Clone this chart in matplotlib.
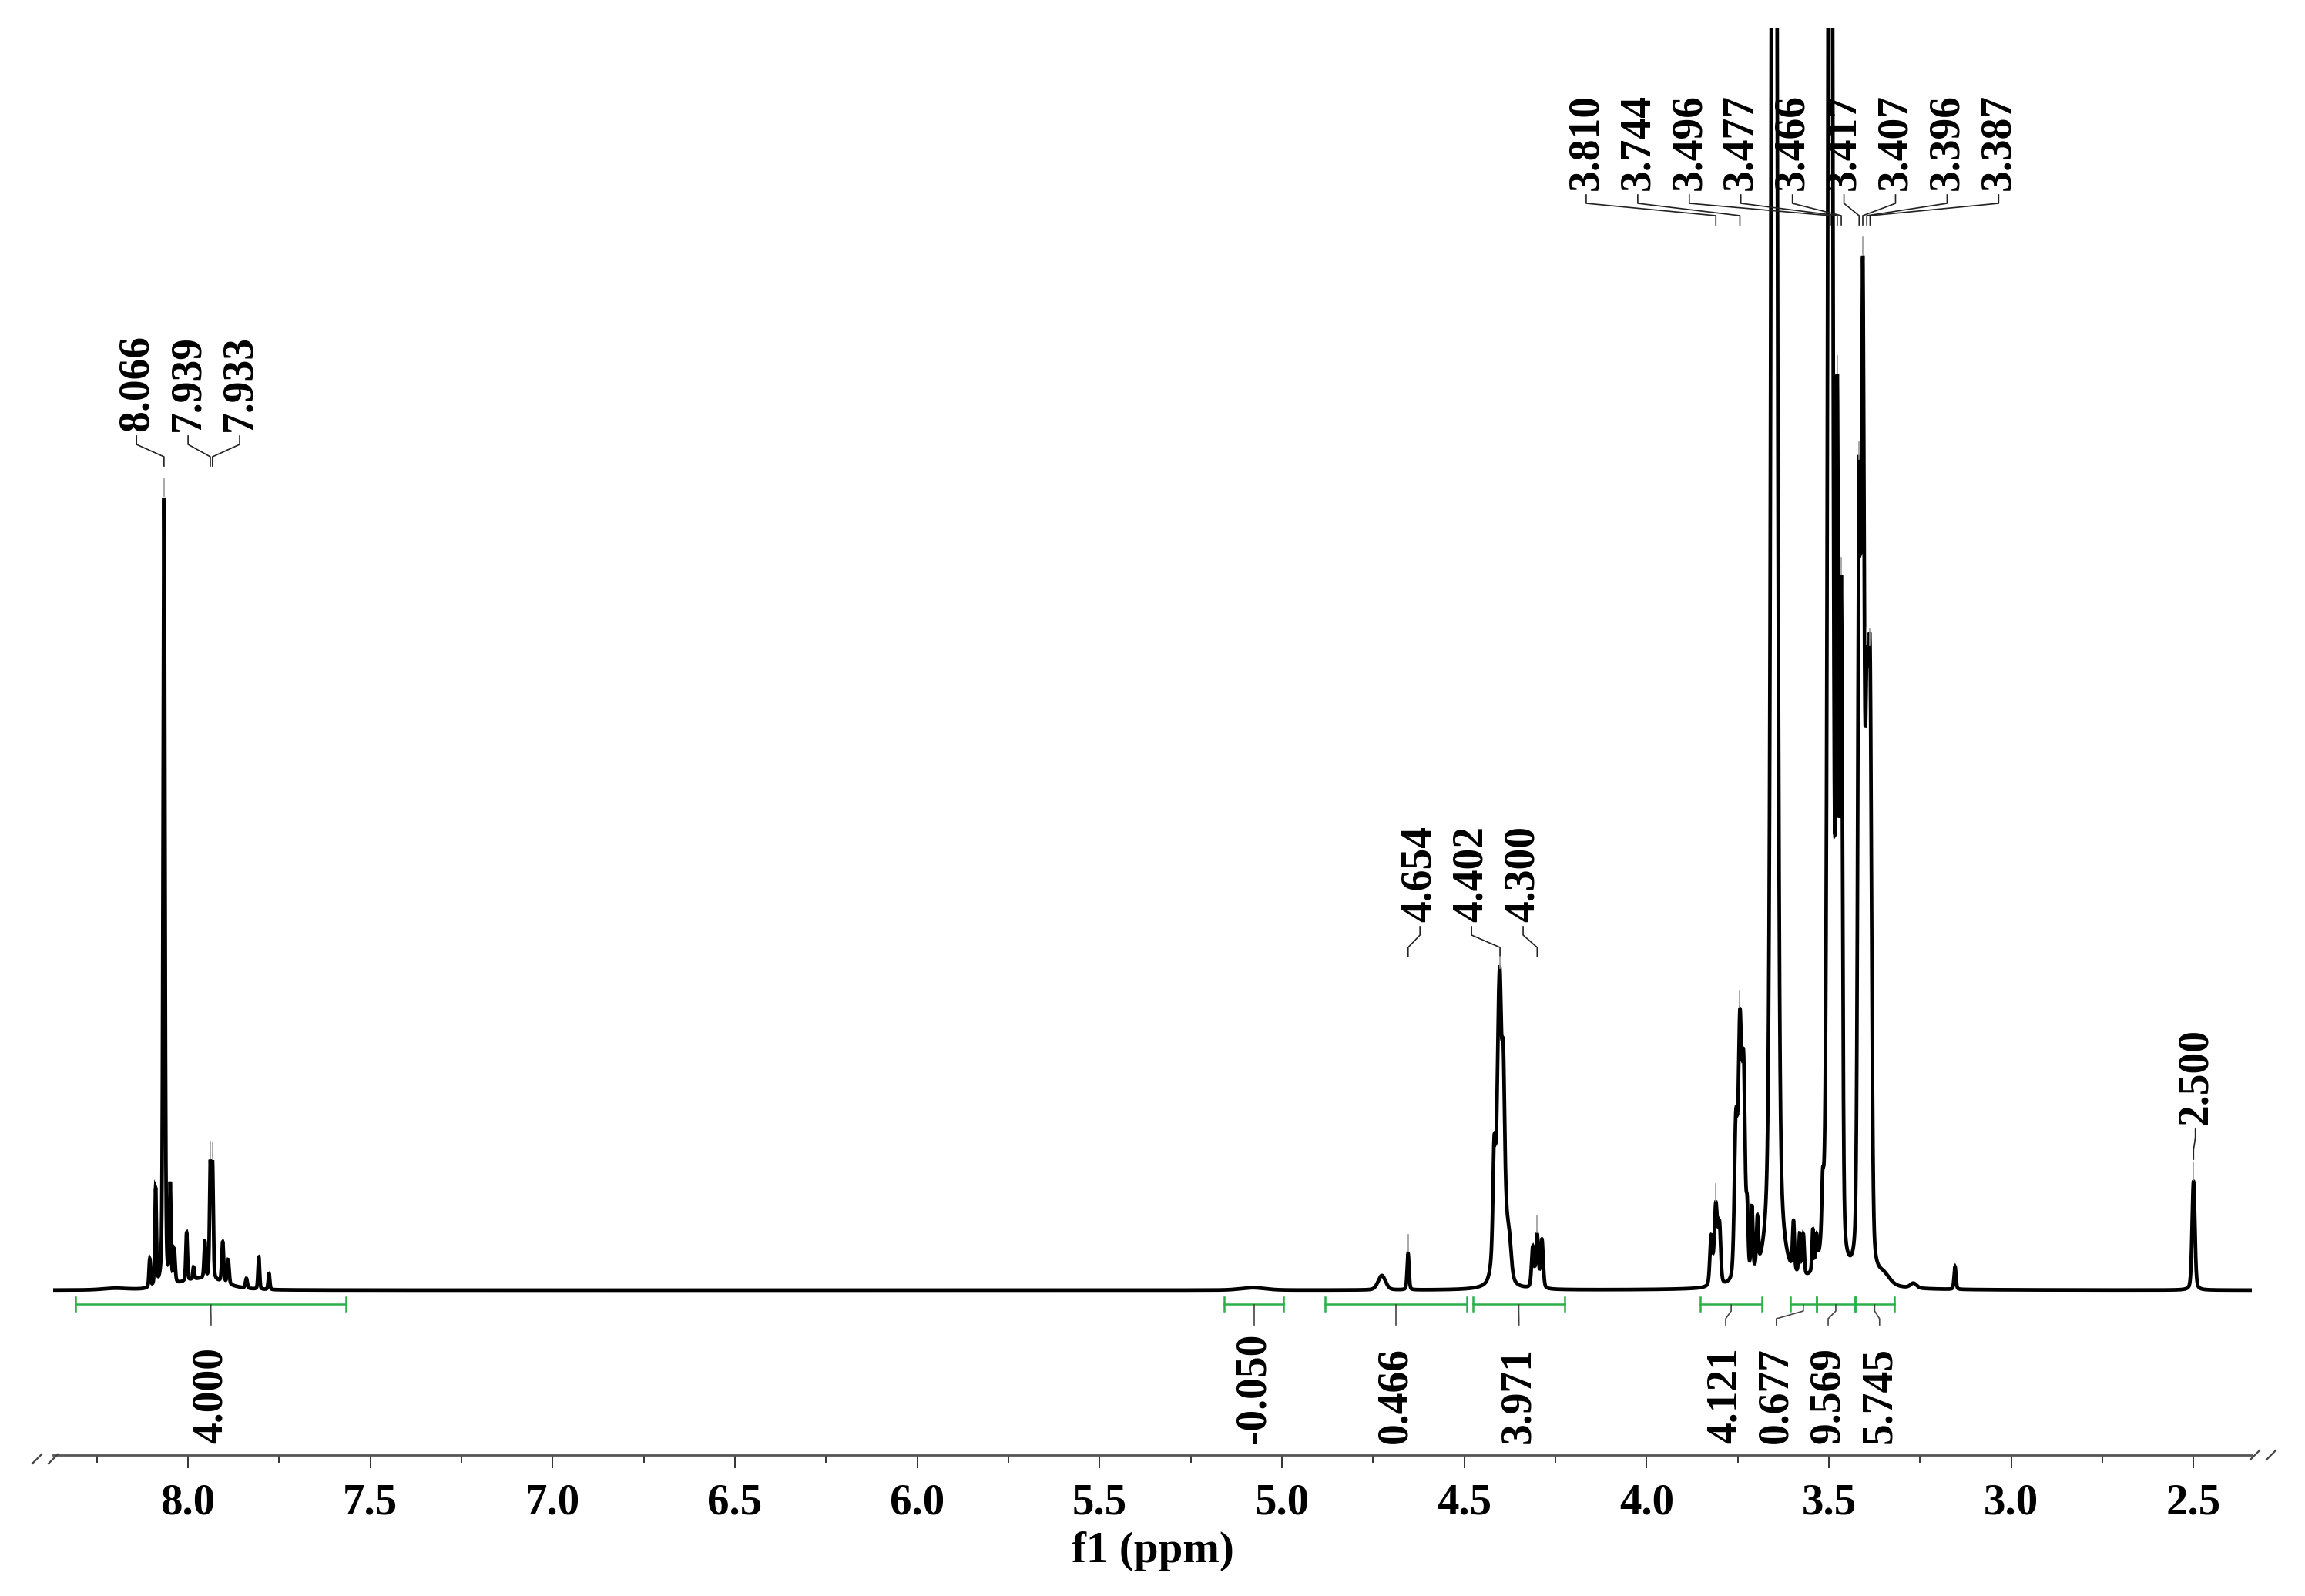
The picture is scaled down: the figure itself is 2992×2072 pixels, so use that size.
import numpy as np
import matplotlib
matplotlib.use('Agg')
import matplotlib.pyplot as plt
from matplotlib.lines import Line2D

plt.rcParams['font.family'] = ['Liberation Serif', 'DejaVu Serif']
plt.rcParams['font.weight'] = 'bold'

# peaks: position (ppm), height (8.066 line ~ 1), half width (ppm)
peak_ppm = [8.200, 8.105, 8.089, 8.066, 8.049, 8.038, 8.004, 7.985, 7.954, 7.939, 7.933,
            7.905, 7.890, 7.840, 7.806, 7.778, 7.960,
            5.080, 4.726, 4.654, 4.418, 4.407, 4.402, 4.393, 4.400, 4.376, 4.312, 4.300, 4.287,
            3.823, 3.810, 3.800, 3.755, 3.744, 3.734, 3.724, 3.711, 3.696, 3.650,
            3.597, 3.580, 3.570, 3.544, 3.534, 3.517, 3.496, 3.477, 3.466,
            3.417, 3.407, 3.396, 3.387, 3.350, 3.268, 3.154, 2.500]
peak_height = [0.002, 0.035, 0.12, 0.98, 0.12, 0.04, 0.06, 0.015, 0.045, 0.14, 0.14,
               0.05, 0.03, 0.012, 0.04, 0.02, 0.014,
               0.003, 0.018, 0.045, 0.11, 0.11, 0.16, 0.13, 0.19, 0.03, 0.05, 0.065, 0.06,
               0.06, 0.10, 0.07, 0.19, 0.30, 0.25, 0.07, 0.08, 0.06, 3.5,
               0.06, 0.05, 0.05, 0.05, 0.035, 0.06, 3.0, 1.0, 0.8,
               0.92, 1.15, 0.62, 0.68, 0.012, 0.006, 0.028, 0.135]
peak_hwhm = [0.04, 0.0025, 0.0025, 0.003, 0.0025, 0.003, 0.0025, 0.0025, 0.0025, 0.0025, 0.0025,
             0.003, 0.003, 0.003, 0.0025, 0.0025, 0.07,
             0.04, 0.012, 0.003, 0.004, 0.004, 0.004, 0.004, 0.015, 0.006, 0.004, 0.004, 0.004,
             0.004, 0.005, 0.004, 0.005, 0.005, 0.005, 0.003, 0.003, 0.003, 0.0075,
             0.003, 0.003, 0.003, 0.0025, 0.003, 0.003, 0.0065, 0.004, 0.004,
             0.0045, 0.0045, 0.005, 0.005, 0.02, 0.01, 0.003, 0.0045]

# peak picking labels, one list per group
labels_arom = [8.066, 7.939, 7.933]
labels_ch2 = [4.654, 4.402, 4.300]
labels_peg = [3.810, 3.744, 3.496, 3.477, 3.466, 3.417, 3.407, 3.396, 3.387]
labels_dmso = [2.500]

# integrals
int_from = [8.308, 5.158, 4.882, 4.477, 3.852, 3.606, 3.534, 3.428]
int_to = [7.567, 4.996, 4.494, 4.224, 3.684, 3.534, 3.428, 3.321]
int_value = ['4.000', '-0.050', '0.466', '3.971', '4.121', '0.677', '9.569', '5.745']
int_label_ppm = [7.937, 5.077, 4.688, 4.350, 3.783, 3.644, 3.502, 3.361]

xticks = [8.0, 7.5, 7.0, 6.5, 6.0, 5.5, 5.0, 4.5, 4.0, 3.5, 3.0, 2.5]

W, H = 2992, 2072
AX_L, AX_R, AX_T, AX_B = 69, 2923, 37, 1889
BASE, UNIT = 1675, 1045.0


def py(p):
    # pixel row -> intensity units
    return (BASE - p) / UNIT


def shape(x, c, h, w, eta=0.3):
    u = (x - c) / w
    return h * (eta / (1 + u ** 2) + (1 - eta) * np.exp(-np.log(2) * u ** 2))


x = np.linspace(8.37, 2.34, 60000)
y = np.zeros_like(x)
for c, h, w in zip(peak_ppm, peak_height, peak_hwhm):
    y += shape(x, c, h, w)

fig = plt.figure(figsize=(W / 100, H / 100), dpi=100)
ax = fig.add_axes([AX_L / W, 1 - AX_B / H, (AX_R - AX_L) / W, (AX_B - AX_T) / H])
ax.plot(x, y, color='black', lw=3.4, solid_joinstyle='miter')
ax.set_xlim(8.37, 2.34)
ax.set_ylim(py(AX_B), py(AX_T))

for s in ['left', 'right', 'top']:
    ax.spines[s].set_visible(False)
ax.spines['bottom'].set_color('#555555')
ax.spines['bottom'].set_linewidth(2.0)
ax.set_yticks([])
ax.set_xticks(xticks)
ax.set_xticklabels(['%.1f' % t for t in xticks])
ax.set_xticks(np.arange(2.5, 8.3, 0.25), minor=True)
ax.tick_params(axis='x', which='major', length=12, width=1.4, color='#333333',
               pad=14, labelsize=41)
ax.tick_params(axis='x', which='minor', length=7, width=1.4, color='#333333')
for lab in ax.get_xticklabels():
    lab.set_fontweight('bold')
fig.text((AX_L + AX_R) / 2 / W, 1 - 2028 / H, 'f1 (ppm)', ha='center', va='baseline',
         fontsize=41, fontweight='bold')


def spec_at(p):
    return np.interp(p, x[::-1], y[::-1])


spacing = 0.1414
groups = [(labels_arom, 8.0, 560), (labels_ch2, 4.48, 1197),
          (labels_peg, 3.60, 247), (labels_dmso, 2.495, 1460)]
for vals, center, bottom in groups:
    n = len(vals)
    for i, v in enumerate(vals):
        lx = center + ((n - 1) / 2 - i) * spacing
        ax.text(lx, py(bottom), '%.3f' % v, rotation=90, ha='center', va='bottom',
                fontsize=40, fontweight='bold', clip_on=False)
        ax.plot([lx, lx, v, v], [py(bottom + 6), py(bottom + 17), py(bottom + 33), py(bottom + 45)],
                color='#222222', lw=1.2, clip_on=False)
        top = spec_at(v)
        if top < py(AX_T):
            ax.plot([v, v], [min(top + 24 / UNIT, py(bottom + 45)), top + 2 / UNIT],
                    color='#999999', lw=1.2)

green = '#2bb04a'
bar_y = py(1693)
for a, b, val, lx in zip(int_from, int_to, int_value, int_label_ppm):
    ax.plot([a, b], [bar_y, bar_y], color=green, lw=1.8, clip_on=False)
    for e in (a, b):
        ax.plot([e, e], [py(1684), py(1702)], color=green, lw=1.8, clip_on=False)
    mid = (a + b) / 2
    ax.plot([mid, mid, lx, lx], [py(1694), py(1702), py(1712), py(1720)],
            color='#444444', lw=1.2, clip_on=False)
    ax.text(lx, py(1874), val, rotation=90, ha='center', va='bottom',
            fontsize=40, fontweight='bold', clip_on=False)

# axis break marks
for x0, x1, y0, y1 in [(42, 54, 1900, 1888), (63, 75, 1900, 1888),
                       (2921, 2933, 1895, 1883), (2942, 2954, 1895, 1883)]:
    fig.add_artist(Line2D([x0 / W, x1 / W], [1 - y0 / H, 1 - y1 / H],
                          transform=fig.transFigure, color='#444444', lw=1.6))

fig.savefig('out.png', dpi=100)
